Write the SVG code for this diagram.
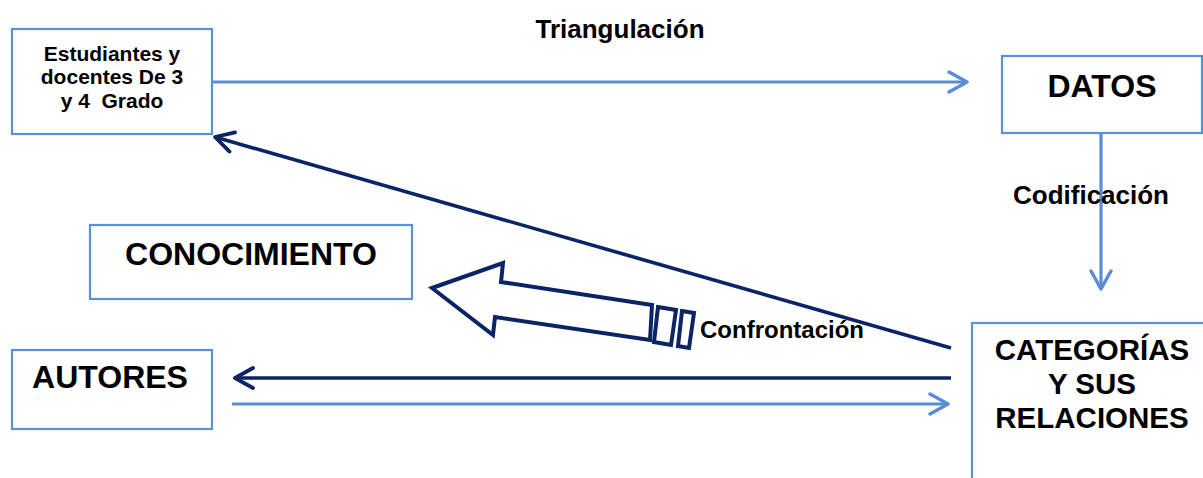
<svg xmlns="http://www.w3.org/2000/svg" width="1203" height="478" viewBox="0 0 1203 478">
<defs>
<style>
.box{fill:#fff;stroke:#5B8FD6;stroke-width:2.2}
.t{font-family:"Liberation Sans",Arial,sans-serif;font-weight:bold;fill:#000;text-anchor:middle}
.lb{fill:none;stroke:#5A8DD6;stroke-width:3.2}
.nv{fill:none;stroke:#0B2466;stroke-width:3.6}
</style>
<marker id="hb" viewBox="-22 -12 26 24" refX="0" refY="0" markerWidth="26" markerHeight="24" markerUnits="userSpaceOnUse" orient="auto">
<path d="M-18,-10 L0,0 L-18,10" fill="none" stroke="#5A8DD6" stroke-width="3.4" stroke-linecap="round" stroke-linejoin="round"/>
</marker>
<marker id="hn" viewBox="-22 -12 26 24" refX="0" refY="0" markerWidth="26" markerHeight="24" markerUnits="userSpaceOnUse" orient="auto">
<path d="M-18,-10 L0,0 L-18,10" fill="none" stroke="#0B2466" stroke-width="3.8" stroke-linecap="round" stroke-linejoin="round"/>
</marker>
</defs>
<rect width="1203" height="478" fill="#fff"/>

<g id="connectors">
<line class="lb" x1="212" y1="82" x2="967" y2="82" marker-end="url(#hb)"/>
<line class="lb" x1="1101" y1="133" x2="1101" y2="289" marker-end="url(#hb)"/>
<line class="nv" x1="951" y1="348" x2="215" y2="137" marker-end="url(#hn)"/>
<line class="nv" x1="951" y1="378" x2="235" y2="378" marker-end="url(#hn)"/>
<line class="lb" x1="232" y1="404" x2="948" y2="404" marker-end="url(#hb)"/>
<g id="confrontacion-arrow" fill="#fff" stroke="#0B2466" stroke-width="4" stroke-linejoin="miter">
<polygon points="432,288 503,263 501,282 652,305 650,340 495,317 493,335"/>
<polygon points="658,307 676,310 671,345 654,342"/>
<polygon points="682,311 694,313 689,348 678,346"/>
</g>
<text class="t" x="620" y="38" font-size="26">Triangulación</text>
<text class="t" x="1091" y="204" font-size="26">Codificación</text>
<text class="t" x="782" y="338" font-size="24">Confrontación</text>
</g>

<g id="estudiantes">
<rect class="box" x="12" y="29" width="200" height="105"/>
<text class="t" font-size="21" x="112" y="61">Estudiantes y</text>
<text class="t" font-size="21" x="112" y="84">docentes De 3</text>
<text class="t" font-size="21" x="112" y="108" xml:space="preserve">y 4  Grado</text>
</g>

<g id="datos">
<rect class="box" x="1002" y="56" width="200" height="77"/>
<text class="t" font-size="32" x="1102" y="97">DATOS</text>
</g>

<g id="conocimiento">
<rect class="box" x="90" y="225" width="322" height="74"/>
<text class="t" font-size="32" x="251" y="265">CONOCIMIENTO</text>
</g>

<g id="autores">
<rect class="box" x="12" y="350" width="200" height="79"/>
<text class="t" font-size="32" x="110" y="388">AUTORES</text>
</g>

<g id="categorias">
<rect class="box" x="972" y="323" width="245" height="170"/>
<text class="t" font-size="29.5" x="1092" y="360">CATEGORÍAS</text>
<text class="t" font-size="29.5" x="1092" y="394">Y SUS</text>
<text class="t" font-size="29.5" x="1092" y="428">RELACIONES</text>
</g>
</svg>
